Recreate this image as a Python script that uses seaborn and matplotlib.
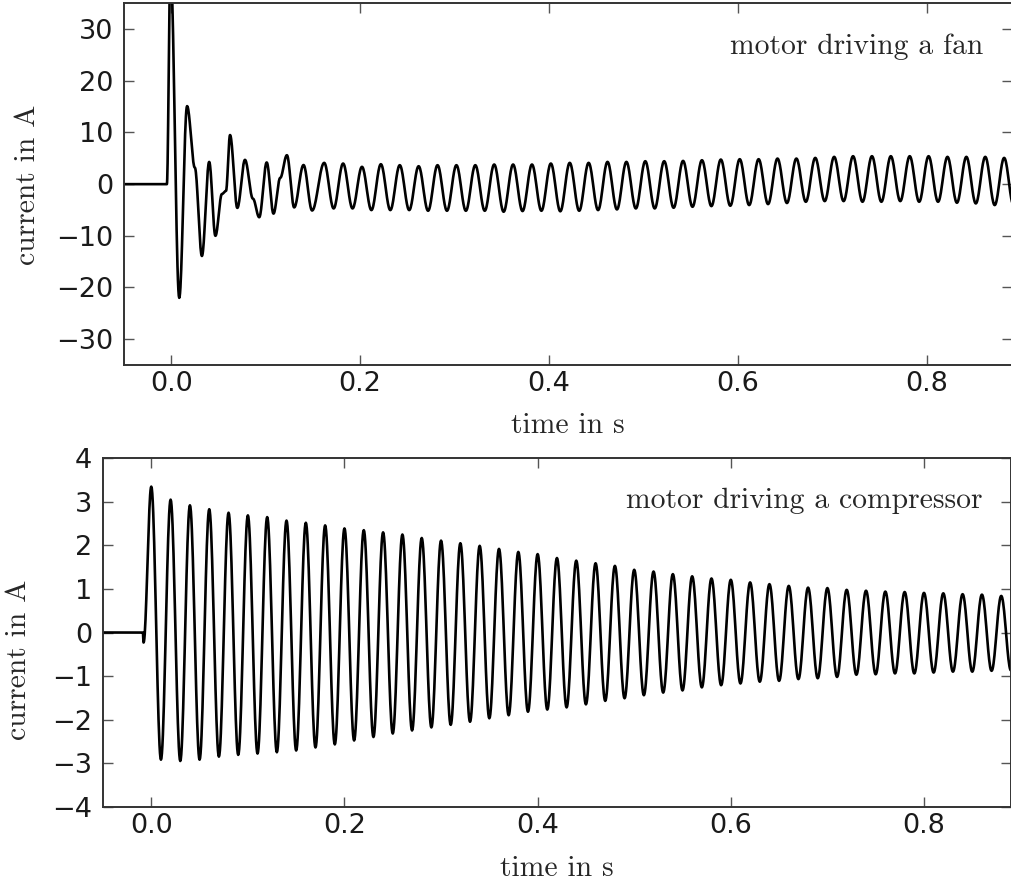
import numpy as np
import pandas as pd
import matplotlib
matplotlib.use("Agg")
import matplotlib.pyplot as plt
from matplotlib.ticker import FormatStrFormatter
import seaborn as sns

# ---------------- data ----------------
# Motor driving a fan: switch-on transient (turning points, s / A)
fan_transient_t = [-0.05, -0.0046, -0.0008, 0.0085, 0.0168, 0.0250, 0.0325, 0.0402,
                   0.0468, 0.0537, 0.0580, 0.0623, 0.0700, 0.0781, 0.0865, 0.0932,
                   0.1011, 0.1083, 0.1154, 0.1225, 0.1302, 0.1401, 0.1492]
fan_transient_i = [0.0, 0.0, 42.0, -22.0, 15.1, 3.2, -13.9, 4.3,
                   -10.0, -1.9, -1.3, 9.5, -4.6, 4.7, -2.8, -6.4,
                   4.2, -5.7, 1.2, 5.6, -4.5, 3.7, -5.1]
# fan: steady-state peaks
fan_peak_t = [0.162, 0.182, 0.202, 0.222, 0.242, 0.262, 0.282, 0.302, 0.322, 0.342,
              0.362, 0.382, 0.402, 0.422, 0.442, 0.462, 0.482, 0.502, 0.522, 0.542,
              0.562, 0.582, 0.602, 0.622, 0.642, 0.662, 0.682, 0.702, 0.722, 0.742,
              0.762, 0.782, 0.802, 0.822, 0.842, 0.862, 0.882]
fan_peak_i = [4.12, 3.99, 3.35, 3.86, 3.67, 3.47, 3.67, 3.67, 3.67, 3.80,
              3.80, 3.80, 3.99, 4.12, 4.12, 4.31, 4.31, 4.44, 4.44, 4.50,
              4.63, 4.76, 4.83, 4.83, 4.95, 4.95, 5.08, 5.28, 5.41, 5.41,
              5.41, 5.41, 5.41, 5.28, 5.28, 5.28, 5.08]
# fan: steady-state troughs
fan_trough_t = [0.172, 0.192, 0.212, 0.232, 0.252, 0.272, 0.292, 0.312, 0.332, 0.352,
                0.372, 0.392, 0.412, 0.432, 0.452, 0.472, 0.492, 0.512, 0.532, 0.552,
                0.572, 0.592, 0.612, 0.632, 0.652, 0.672, 0.692, 0.712, 0.732, 0.752,
                0.772, 0.792, 0.812, 0.832, 0.852, 0.872, 0.892]
fan_trough_i = [-4.70, -4.70, -5.02, -5.02, -5.02, -5.15, -5.15, -5.15, -5.15, -5.34,
                -5.21, -5.15, -5.25, -5.15, -5.02, -4.89, -4.70, -4.70, -4.57, -4.38,
                -4.25, -4.18, -4.05, -3.86, -3.65, -3.41, -3.28, -3.28, -3.41, -3.41,
                -3.28, -3.41, -3.41, -3.60, -3.73, -4.05, -4.10]

# Motor driving a compressor: before switch-on
comp_transient_t = [-0.05, -0.0087, -0.0080]
comp_transient_i = [0.0, 0.0, -0.23]
# compressor: peaks
comp_peak_t = [0.00, 0.02, 0.04, 0.06, 0.08, 0.10, 0.12, 0.14, 0.16, 0.18,
               0.20, 0.22, 0.24, 0.26, 0.28, 0.30, 0.32, 0.34, 0.36, 0.38,
               0.40, 0.42, 0.44, 0.46, 0.48, 0.50, 0.52, 0.54, 0.56, 0.58,
               0.60, 0.62, 0.64, 0.66, 0.68, 0.70, 0.72, 0.74, 0.76, 0.78,
               0.80, 0.82, 0.84, 0.86, 0.88]
comp_peak_i = [3.35, 3.05, 2.92, 2.83, 2.75, 2.69, 2.65, 2.57, 2.52, 2.46,
               2.39, 2.35, 2.30, 2.25, 2.17, 2.11, 2.05, 1.99, 1.92, 1.85,
               1.80, 1.71, 1.65, 1.59, 1.53, 1.44, 1.40, 1.34, 1.29, 1.24,
               1.21, 1.15, 1.11, 1.07, 1.03, 1.02, 0.98, 0.96, 0.94, 0.93,
               0.91, 0.90, 0.88, 0.87, 0.84]
# compressor: troughs
comp_trough_t = [0.01, 0.03, 0.05, 0.07, 0.09, 0.11, 0.13, 0.15, 0.17, 0.19,
                 0.21, 0.23, 0.25, 0.27, 0.29, 0.31, 0.33, 0.35, 0.37, 0.39,
                 0.41, 0.43, 0.45, 0.47, 0.49, 0.51, 0.53, 0.55, 0.57, 0.59,
                 0.61, 0.63, 0.65, 0.67, 0.69, 0.71, 0.73, 0.75, 0.77, 0.79,
                 0.81, 0.83, 0.85, 0.87, 0.89]
comp_trough_i = [-2.92, -2.95, -2.92, -2.85, -2.81, -2.78, -2.75, -2.71, -2.64, -2.57,
                 -2.48, -2.40, -2.32, -2.25, -2.18, -2.12, -2.05, -1.97, -1.90, -1.82,
                 -1.77, -1.72, -1.65, -1.57, -1.51, -1.44, -1.38, -1.33, -1.26, -1.21,
                 -1.17, -1.13, -1.11, -1.07, -1.05, -1.02, -0.97, -0.96, -0.94, -0.94,
                 -0.92, -0.90, -0.90, -0.88, -0.87]

x_ticks = [0.0, 0.2, 0.4, 0.6, 0.8]
fan_y_ticks = [-30, -20, -10, 0, 10, 20, 30]
comp_y_ticks = [-4, -3, -2, -1, 0, 1, 2, 3, 4]


def waveform(t_lists, i_lists, n=20):
    """Join the read turning points with smooth half-cosine strokes."""
    t = np.concatenate([np.asarray(a, float) for a in t_lists])
    v = np.concatenate([np.asarray(a, float) for a in i_lists])
    order = np.argsort(t)
    t, v = t[order], v[order]
    xs, ys = [], []
    s = np.linspace(0.0, 1.0, n, endpoint=False)
    for k in range(len(t) - 1):
        xs.append(t[k] + (t[k + 1] - t[k]) * s)
        ys.append(v[k] + (v[k + 1] - v[k]) * (1 - np.cos(np.pi * s)) / 2)
    xs.append([t[-1]])
    ys.append([v[-1]])
    return pd.DataFrame({"t": np.concatenate(xs), "i": np.concatenate(ys)})


fan_df = waveform([fan_transient_t, fan_peak_t, fan_trough_t],
                  [fan_transient_i, fan_peak_i, fan_trough_i])
comp_df = waveform([comp_transient_t, comp_peak_t, comp_trough_t],
                   [comp_transient_i, comp_peak_i, comp_trough_i])

# ---------------- style ----------------
sns.set_theme(style="white")
plt.rcParams.update({
    "font.family": ["DejaVu Sans"],
    "xtick.direction": "in", "ytick.direction": "in",
    "xtick.top": True, "ytick.right": True,
    "xtick.bottom": True, "ytick.left": True,
    "xtick.major.size": 7, "ytick.major.size": 7,
    "xtick.major.width": 1.0, "ytick.major.width": 1.0,
    "xtick.color": "#555555", "ytick.color": "#555555",
    "xtick.labelcolor": "#1a1a1a", "ytick.labelcolor": "#1a1a1a",
    "xtick.labelsize": 19.5, "ytick.labelsize": 19.5,
    "xtick.major.pad": 4.5, "ytick.major.pad": 8,
    "axes.edgecolor": "#333333", "axes.linewidth": 1.4,
})

W, H = 1011, 884
fig = plt.figure(figsize=(W / 100, H / 100), dpi=100)
ax1 = fig.add_axes([124 / W, 1 - 365 / H, (1011.7 - 124) / W, (365 - 3.3) / H])
ax2 = fig.add_axes([103 / W, 1 - 806.7 / H, (1010.9 - 103) / W, (806.7 - 458.3) / H])

serif = "cmr10"
lab_fs = 21.3

for ax, df, yticks, ylim in [(ax1, fan_df, fan_y_ticks, (-35, 35)),
                             (ax2, comp_df, comp_y_ticks, (-4, 4))]:
    sns.lineplot(data=df, x="t", y="i", ax=ax, color="black", linewidth=1.9,
                 estimator=None, sort=False)
    ax.set_xlim(-0.05, 0.89)
    ax.set_ylim(*ylim)
    ax.set_xticks(x_ticks)
    ax.set_yticks(yticks)
    ax.xaxis.set_major_formatter(FormatStrFormatter("%.1f"))
    ax.set_xlabel("")
    ax.set_ylabel("")
    for sp in ax.spines.values():
        sp.set_visible(True)

# axis labels (serif, Computer Modern look)
fig.text(567.8 / W, 1 - 433 / H, "time in s", family=serif, fontsize=lab_fs,
         ha="center", va="baseline")
fig.text(557 / W, 1 - 876 / H, "time in s", family=serif, fontsize=lab_fs,
         ha="center", va="baseline")
fig.text(27.5 / W, 1 - 185 / H, "current in A", family=serif, fontsize=lab_fs,
         ha="center", va="center", rotation=90)
fig.text(18.5 / W, 1 - 660 / H, "current in A", family=serif, fontsize=lab_fs,
         ha="center", va="center", rotation=90)

# annotations
fig.text(983 / W, 1 - 54 / H, "motor driving a fan", family=serif, fontsize=lab_fs,
         ha="right", va="baseline")
fig.text(982 / W, 1 - 508 / H, "motor driving a compressor", family=serif,
         fontsize=lab_fs, ha="right", va="baseline")

fig.savefig("out.png", dpi=100)
